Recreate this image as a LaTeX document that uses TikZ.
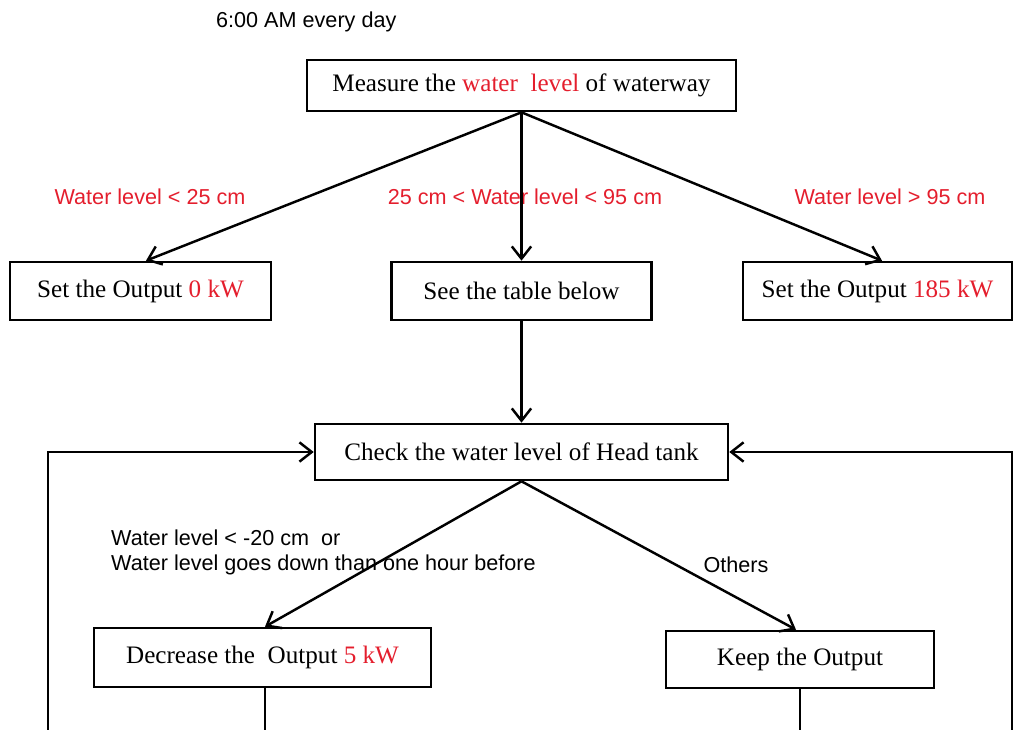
\documentclass[tikz,border=0pt]{standalone}
\usepackage{fontspec}
\setmainfont{Liberation Serif}
\setsansfont{Liberation Sans}
\usetikzlibrary{arrows.meta}

\definecolor{lvlred}{RGB}{228,30,45}

\tikzset{
  box/.style={draw, line width=1.5pt, inner sep=0pt, font=\fontsize{14.3}{16}\selectfont},
  flow/.style={line width=1.4pt, -{Straight Barb[length=7pt,width=11pt,line width=1.4pt]}},
  link/.style={line width=1.4pt},
  cond/.style={font=\sffamily\fontsize{12.3}{14}\selectfont, text=lvlred},
  note/.style={font=\sffamily\fontsize{12.3}{14}\selectfont, anchor=west},
}

\begin{document}
\begin{tikzpicture}[x=0.02cm,y=-0.02cm]
    \useasboundingbox (0,0) rectangle (1015,730);

    \node[note] (start) at (210,22) {6:00 AM every day};

    \node[box, minimum width=8.58cm, minimum height=1.02cm] (measure) at (521.5,85.5)
        {Measure the \textcolor{lvlred}{water\ \ level} of waterway};

    \node[box, minimum width=5.22cm, minimum height=1.16cm] (zero) at (140.5,291)
        {Set the Output \textcolor{lvlred}{0 kW}};
    \node[box, minimum width=5.2cm, minimum height=1.16cm] (table) at (521.5,291)
        {See the table below};
    \node[box, minimum width=5.38cm, minimum height=1.16cm] (full) at (877.5,291)
        {Set the Output \textcolor{lvlred}{185 kW}};

    \node[cond] (low) at (150,197) {Water level < 25 cm};
    \node[cond] (mid) at (525,197) {25 cm < Water level < 95 cm};
    \node[cond] (high) at (890,197) {Water level > 95 cm};

    \draw[flow] (measure.south) -- (zero.north -| 146,0);
    \draw[flow] (measure.south) -- (table.north);
    \draw[flow] (measure.south) -- (full.north -| 882,0);

    \node[box, minimum width=8.26cm, minimum height=1.12cm] (check) at (521.5,452)
        {Check the water level of Head tank};

    \draw[flow] (table.south) -- (check.north);

    \node[box, minimum width=6.74cm, minimum height=1.18cm] (decrease) at (262.5,657.5)
        {Decrease the\ \ Output \textcolor{lvlred}{5 kW}};
    \node[box, minimum width=5.36cm, minimum height=1.14cm] (keep) at (800,659.5)
        {Keep the Output};

    \node[note] (cond1) at (105,538) {Water level < -20 cm\ \ or};
    \node[note] (cond2) at (105,565) {Water level goes down than one hour before};
    \node[note, anchor=center] (others) at (736,565) {Others};

    \draw[flow] (check.south) -- (decrease.north -| 265,0);
    \draw[flow] (check.south) -- (keep.north -| 796,0);

    \coordinate (decout) at (265,730);
    \coordinate (keepout) at (800,730);
    \coordinate (leftfoot) at (48,730);
    \coordinate (rightfoot) at (1012,730);

    \draw[link] (decrease.south -| decout) -- (decout);
    \draw[link] (keep.south) -- (keepout);
    \draw[flow] (leftfoot) |- (check.west);
    \draw[flow] (rightfoot) |- (check.east);
\end{tikzpicture}
\end{document}
